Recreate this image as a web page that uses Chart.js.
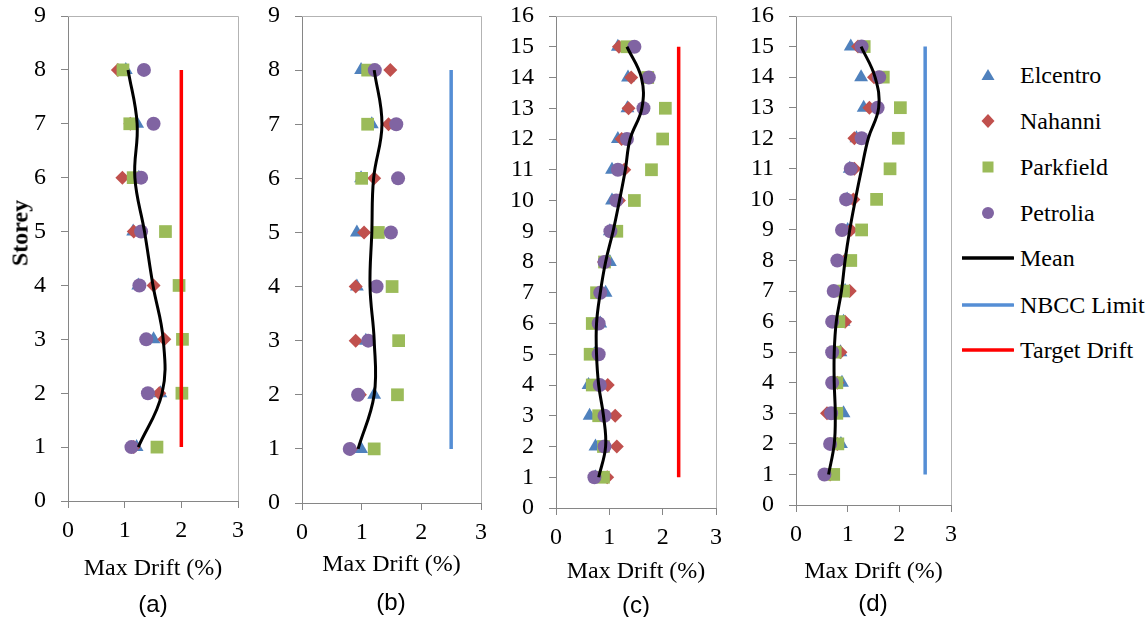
<!DOCTYPE html>
<html>
<head>
<meta charset="utf-8">
<title>Max Drift per Storey</title>
<script src="https://cdn.jsdelivr.net/npm/chart.js@4/dist/chart.umd.min.js"></script>
<style>
  html, body { margin: 0; padding: 0; background: #fff; }
  #wrap { position: relative; width: 1147px; height: 617px; overflow: hidden; font-family: "Liberation Serif", serif; }
  canvas { position: absolute; top: 0; }
  .lab { position: absolute; font-family: "Liberation Sans", Arial, sans-serif; font-size: 24px; color: #000; transform: translate(-50%, -50%); white-space: nowrap; }
  #storey { position: absolute; left: 20px; top: 233px; font-weight: bold; font-size: 24px; transform: translate(-50%, -50%) rotate(-90deg); }
  .leg { position: absolute; left: 962px; height: 30px; display: flex; align-items: center; font-size: 24px; color: #000; transform: translateY(-50%); }
  .leg svg { width: 52px; height: 20px; margin-right: 6px; }
</style>
</head>
<body>
<div id="wrap">
  <canvas id="pa" width="250" height="617" style="left:0px"></canvas>
  <canvas id="pb" width="250" height="617" style="left:250px"></canvas>
  <canvas id="pc" width="245" height="617" style="left:490px"></canvas>
  <canvas id="pd" width="230" height="617" style="left:730px"></canvas>
  <div id="storey">Storey</div>
  <div class="lab" style="left:153px;top:604px">(a)</div>
  <div class="lab" style="left:391px;top:602px">(b)</div>
  <div class="lab" style="left:636px;top:605px">(c)</div>
  <div class="lab" style="left:873px;top:603px">(d)</div>
  <div id="legend"></div>
</div>
<script>
// --- Dados ------------------------------------------------------------------
var storeys8 = [1, 2, 3, 4, 5, 6, 7, 8];
var storeys15 = [1, 2, 3, 4, 5, 6, 7, 8, 9, 10, 11, 12, 13, 14, 15];
var xTicks = [0, 1, 2, 3];

// (a) 8 andares, Target Drift
var aElcentro  = [1.21, 1.63, 1.51, 1.24, 1.15, 1.25, 1.22, 1.02];
var aNahanni   = [1.16, 1.61, 1.70, 1.51, 1.16, 0.96, 1.10, 0.88];
var aParkfield = [1.57, 2.01, 2.02, 1.96, 1.72, 1.15, 1.09, 0.97];
var aPetrolia  = [1.12, 1.41, 1.38, 1.26, 1.29, 1.29, 1.51, 1.34];
var aMean      = [1.24, 1.66, 1.68, 1.50, 1.35, 1.18, 1.22, 1.06];
var aLimit     = 2.0;

// (b) 8 andares, NBCC Limit
var bElcentro  = [0.99, 1.21, 1.07, 0.92, 0.92, 0.99, 1.17, 0.99];
var bNahanni   = [0.82, 0.97, 0.90, 0.90, 1.04, 1.21, 1.45, 1.48];
var bParkfield = [1.21, 1.60, 1.62, 1.51, 1.28, 1.00, 1.10, 1.10];
var bPetrolia  = [0.80, 0.94, 1.11, 1.25, 1.49, 1.61, 1.58, 1.22];
var bMean      = [0.94, 1.21, 1.21, 1.14, 1.17, 1.20, 1.34, 1.21];
var bLimit     = 2.5;

// (c) 15 andares, Target Drift
var cElcentro  = [0.74, 0.74, 0.63, 0.61, 0.72, 0.83, 0.93, 1.01, 1.01, 1.05, 1.05, 1.16, 1.34, 1.35, 1.16];
var cNahanni   = [0.96, 1.14, 1.11, 0.97, 0.75, 0.78, 0.80, 0.90, 1.05, 1.18, 1.28, 1.23, 1.36, 1.41, 1.18];
var cParkfield = [0.89, 0.89, 0.80, 0.68, 0.64, 0.68, 0.76, 0.91, 1.14, 1.47, 1.79, 2.00, 2.05, 1.72, 1.33];
var cPetrolia  = [0.72, 0.91, 0.91, 0.82, 0.80, 0.80, 0.83, 0.91, 1.02, 1.13, 1.16, 1.33, 1.64, 1.74, 1.47];
var cMean      = [0.80, 0.93, 0.89, 0.80, 0.76, 0.76, 0.83, 0.93, 1.07, 1.19, 1.30, 1.39, 1.61, 1.60, 1.33];
var cLimit     = 2.3;

// (d) 15 andares, NBCC Limit
var dElcentro  = [0.66, 0.87, 0.92, 0.89, 0.86, 0.92, 0.95, 0.95, 1.00, 0.99, 1.04, 1.17, 1.31, 1.26, 1.06];
var dNahanni   = [0.66, 0.80, 0.60, 0.80, 0.86, 0.95, 1.04, 0.95, 1.06, 1.11, 1.13, 1.13, 1.42, 1.51, 1.20];
var dParkfield = [0.73, 0.81, 0.79, 0.79, 0.76, 0.83, 0.92, 1.06, 1.27, 1.56, 1.82, 1.98, 2.02, 1.69, 1.32];
var dPetrolia  = [0.55, 0.66, 0.68, 0.70, 0.70, 0.70, 0.73, 0.80, 0.89, 0.97, 1.06, 1.27, 1.58, 1.61, 1.27];
var dMean      = [0.63, 0.74, 0.76, 0.74, 0.74, 0.78, 0.88, 0.95, 1.04, 1.15, 1.27, 1.40, 1.60, 1.53, 1.26];
var dLimit     = 2.5;

// --- Estilo -----------------------------------------------------------------
var C_ELC = "#4F81BD", C_NAH = "#C0504D", C_PARK = "#9BBB59", C_PET = "#8064A2";
var C_NBCC = "#558ED5", C_TARGET = "#FF0000";
var AXIS = "#868686", FRAME = "#B3B3B3";
var FONT = "'Liberation Serif', 'Times New Roman', serif";

function pts(xs, ys) { return ys.map(function (y, i) { return { x: xs[i], y: y }; }); }

// moldura cinza do plot area (topo e direita incluídos)
var framePlugin = {
  id: "frame",
  beforeDatasetsDraw: function (chart) {
    var a = chart.chartArea, ctx = chart.ctx;
    ctx.save();
    ctx.strokeStyle = FRAME; ctx.lineWidth = 1;
    ctx.beginPath();
    ctx.moveTo(a.left, a.top + 0.5); ctx.lineTo(a.right + 0.5, a.top + 0.5); ctx.lineTo(a.right + 0.5, a.bottom);
    ctx.stroke();
    ctx.restore();
  }
};

function panel(id, box, ys, ymax, elc, nah, park, pet, mean, limit, limitColor) {
  var el = document.getElementById(id);
  var W = el.width, H = el.height;
  var xBoxBottom = box.titleY + 16;
  return new Chart(el, {
    type: "scatter",
    data: {
      datasets: [
        { label: "Elcentro", data: pts(elc, ys), pointStyle: "triangle", pointRadius: 8, backgroundColor: C_ELC, borderColor: C_ELC, borderWidth: 0, order: 5 },
        { label: "Nahanni", data: pts(nah, ys), pointStyle: "rectRot", pointRadius: 7, backgroundColor: C_NAH, borderColor: C_NAH, borderWidth: 0, order: 4 },
        { label: "Parkfield", data: pts(park, ys), pointStyle: "rect", pointRadius: 9, backgroundColor: C_PARK, borderColor: C_PARK, borderWidth: 0, order: 3 },
        { label: "Petrolia", data: pts(pet, ys), pointStyle: "circle", pointRadius: 7, backgroundColor: C_PET, borderColor: C_PET, borderWidth: 0, order: 2 },
        { label: "Mean", type: "line", data: pts(mean, ys), showLine: true, tension: 0.4, borderColor: "#000", borderWidth: 3, pointRadius: 0, fill: false, order: 1 },
        { label: "Limit", type: "line", data: [{ x: limit, y: ys[0] }, { x: limit, y: ys[ys.length - 1] }], showLine: true, borderColor: limitColor, borderWidth: 3.5, pointRadius: 0, fill: false, order: 1 }
      ]
    },
    options: {
      responsive: false, animation: false, devicePixelRatio: 1,
      layout: { padding: { left: 0, right: W - box.right, top: box.top, bottom: H - xBoxBottom } },
      plugins: { legend: { display: false }, tooltip: { enabled: false } },
      scales: {
        x: {
          type: "linear", min: 0, max: 3,
          afterBuildTicks: function (s) { s.ticks = xTicks.map(function (v) { return { value: v }; }); },
          afterFit: function (s) { s.height = xBoxBottom - box.bottom; s.paddingLeft = 0; s.paddingRight = 0; },
          border: { display: true, color: AXIS, width: 1 },
          grid: { display: true, drawOnChartArea: false, drawTicks: true, tickLength: 7, tickColor: AXIS },
          ticks: { color: "#000", font: { family: FONT, size: 24 }, padding: 8, maxRotation: 0 },
          title: { display: true, text: "Max Drift (%)", color: "#000", font: { family: FONT, size: 24 }, padding: { top: 0, bottom: 2 } }
        },
        y: {
          type: "linear", min: 0, max: ymax,
          afterFit: function (s) { s.width = box.left; s.paddingTop = 0; s.paddingBottom = 0; },
          border: { display: true, color: AXIS, width: 1 },
          grid: { display: true, drawOnChartArea: false, drawTicks: true, tickLength: 7, tickColor: AXIS },
          ticks: { stepSize: 1, autoSkip: false, color: "#000", font: { family: FONT, size: 24 }, padding: 15 }
        }
      }
    },
    plugins: [framePlugin]
  });
}

// caixas do plot area em coordenadas do canvas
panel("pa", { left: 68, right: 238, top: 16, bottom: 501, titleY: 569 }, storeys8, 9, aElcentro, aNahanni, aParkfield, aPetrolia, aMean, aLimit, C_TARGET);
panel("pb", { left: 52, right: 231, top: 16, bottom: 503, titleY: 565 }, storeys8, 9, bElcentro, bNahanni, bParkfield, bPetrolia, bMean, bLimit, C_NBCC);
panel("pc", { left: 66, right: 226, top: 16, bottom: 508, titleY: 572 }, storeys15, 16, cElcentro, cNahanni, cParkfield, cPetrolia, cMean, cLimit, C_TARGET);
panel("pd", { left: 66, right: 221, top: 16, bottom: 505, titleY: 572 }, storeys15, 16, dElcentro, dNahanni, dParkfield, dPetrolia, dMean, dLimit, C_NBCC);

// --- Legenda ----------------------------------------------------------------
var legendItems = [
  { text: "Elcentro", y: 75, svg: '<polygon points="26,4 32.5,15 19.5,15" fill="' + C_ELC + '"/>' },
  { text: "Nahanni", y: 121, svg: '<polygon points="26,3 32.5,10 26,17 19.5,10" fill="' + C_NAH + '"/>' },
  { text: "Parkfield", y: 167, svg: '<rect x="20.5" y="4.5" width="11" height="11" fill="' + C_PARK + '"/>' },
  { text: "Petrolia", y: 213, svg: '<circle cx="26" cy="10" r="6" fill="' + C_PET + '"/>' },
  { text: "Mean", y: 258, svg: '<line x1="0" y1="10" x2="51" y2="10" stroke="#000" stroke-width="3.5" stroke-linecap="round"/>' },
  { text: "NBCC Limit", y: 305, svg: '<line x1="0" y1="10" x2="51" y2="10" stroke="' + C_NBCC + '" stroke-width="3.5" stroke-linecap="round"/>' },
  { text: "Target Drift", y: 350, svg: '<line x1="0" y1="10" x2="51" y2="10" stroke="' + C_TARGET + '" stroke-width="3.5" stroke-linecap="round"/>' }
];
var legend = document.getElementById("legend");
legendItems.forEach(function (it) {
  var d = document.createElement("div");
  d.className = "leg";
  d.style.top = it.y + "px";
  d.innerHTML = '<svg viewBox="0 0 52 20">' + it.svg + '</svg><span>' + it.text + '</span>';
  legend.appendChild(d);
});
</script>
</body>
</html>
